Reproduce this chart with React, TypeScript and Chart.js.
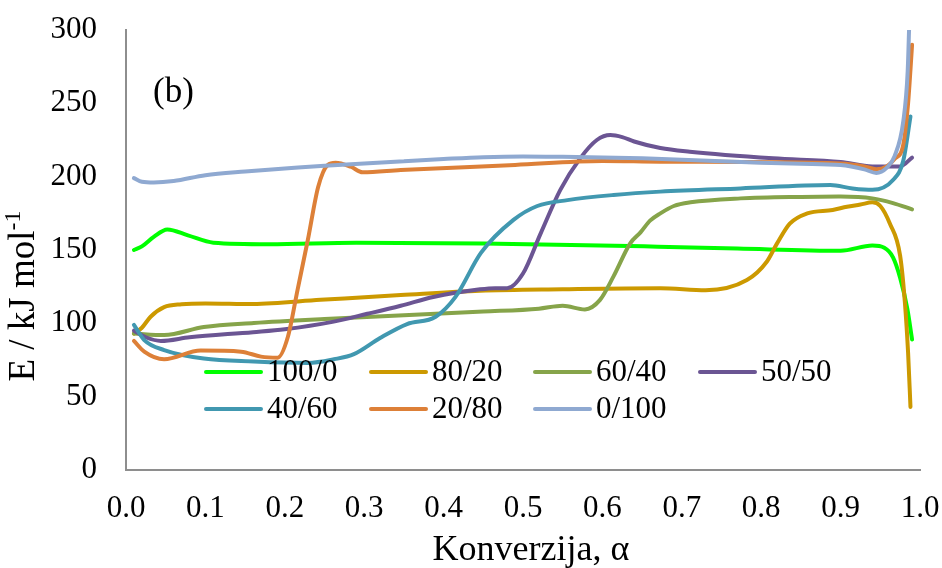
import React, { useEffect, useRef } from 'react';
import { Chart, registerables } from 'chart.js';

Chart.register(...registerables);

const FONT = "'Liberation Serif', 'Times New Roman', serif";

const seriesLabels = ['100/0', '80/20', '60/40', '50/50', '40/60', '20/80', '0/100'];
const seriesColors = ['#00FF00', '#CC9900', '#86A44A', '#6B5593', '#4198B0', '#DD8038', '#8FA9D1'];

const xTickLabels = ['0.0', '0.1', '0.2', '0.3', '0.4', '0.5', '0.6', '0.7', '0.8', '0.9', '1.0'];
const yTickLabels = ['0', '50', '100', '150', '200', '250', '300'];
const xTitle = 'Konverzija, α';
const yTitleMain = 'E / kJ mol';
const yTitleSup = '-1';

// 100/0
const alpha100_0 = [0.01, 0.02, 0.035, 0.052, 0.078, 0.11, 0.18, 0.29, 0.45, 0.67, 0.77, 0.9, 0.94, 0.955, 0.966, 0.975, 0.984, 0.99];
const e100_0 = [150, 152.5, 159, 164, 160, 155, 154, 155, 154.5, 152.3, 151, 149.5, 153, 151.5, 145, 131, 110, 89];

// 80/20
const alpha80_20 = [0.01, 0.02, 0.031, 0.048, 0.07, 0.1, 0.16, 0.245, 0.346, 0.446, 0.55, 0.673, 0.73, 0.782, 0.807, 0.82, 0.836, 0.858, 0.89, 0.908, 0.925, 0.94, 0.95, 0.962, 0.975, 0.981, 0.985, 0.988];
const e80_20 = [93, 97, 104.5, 111, 113, 113.6, 113.2, 116, 119.3, 122.3, 123.3, 124, 122.6, 129.5, 142, 154.5, 168, 175, 177.3, 179.5, 181, 182.5, 180, 168, 146, 114, 80, 43];

// 60/40
const alpha60_40 = [0.01, 0.048, 0.098, 0.161, 0.25, 0.35, 0.45, 0.52, 0.55, 0.578, 0.597, 0.614, 0.635, 0.648, 0.66, 0.673, 0.69, 0.711, 0.774, 0.85, 0.9, 0.94, 0.966, 0.99];
const e60_40 = [93, 92, 97.5, 100.3, 103, 105.5, 108, 110, 112, 109.5, 116, 132, 154.5, 162, 170, 175, 180, 182.5, 185.2, 186.2, 186.4, 185.2, 182, 177.7];

// 50/50
const alpha50_50 = [0.01, 0.025, 0.044, 0.08, 0.16, 0.2, 0.26, 0.304, 0.346, 0.387, 0.446, 0.465, 0.48, 0.5, 0.522, 0.547, 0.572, 0.593, 0.61, 0.625, 0.64, 0.673, 0.71, 0.815, 0.9, 0.94, 0.975, 0.99];
const e50_50 = [95, 90.5, 88, 90.5, 94, 96, 101, 106.5, 112, 118, 123.2, 124, 124, 134, 161, 191, 212.5, 225, 228.4, 227, 224, 219.5, 217, 212.5, 210, 207, 207, 213];

// 40/60
const alpha40_60 = [0.01, 0.023, 0.048, 0.098, 0.161, 0.229, 0.262, 0.287, 0.32, 0.354, 0.39, 0.415, 0.447, 0.488, 0.518, 0.556, 0.614, 0.673, 0.774, 0.887, 0.915, 0.94, 0.966, 0.979, 0.988];
const e40_60 = [99, 88.6, 81.8, 76, 74, 73, 75.5, 79, 90, 99.5, 104.5, 118, 148, 170.5, 180, 184, 187.5, 189.8, 192, 194.3, 192, 191, 197.7, 211, 241];

// 20/80
const alpha20_80 = [0.01, 0.023, 0.048, 0.094, 0.145, 0.17, 0.191, 0.204, 0.216, 0.229, 0.242, 0.254, 0.264, 0.283, 0.298, 0.346, 0.49, 0.6, 0.673, 0.9, 0.93, 0.945, 0.958, 0.968, 0.979, 0.985, 0.988, 0.99];
const e20_80 = [88, 80.7, 75.5, 81.4, 80.7, 77.3, 76.6, 91, 122.7, 156.8, 193, 208, 209.5, 206.8, 203, 204.5, 208, 210.7, 210.2, 209, 207, 205, 207, 212, 222, 250, 273, 290];

// 0/100
const alpha0_100 = [0.01, 0.02, 0.035, 0.06, 0.1, 0.15, 0.2, 0.25, 0.3, 0.35, 0.4, 0.45, 0.5, 0.55, 0.6, 0.65, 0.7, 0.75, 0.8, 0.85, 0.9, 0.93, 0.945, 0.958, 0.968, 0.979, 0.9845, 0.9865];
const e0_100 = [199, 196.5, 196, 197, 201, 203.5, 205.5, 207.5, 209, 210.5, 212, 213.3, 213.8, 213.5, 213, 212.5, 211.5, 210.5, 209.5, 208.8, 208, 205, 202.5, 206, 214, 238, 272, 305];

const seriesAlpha = [alpha100_0, alpha80_20, alpha60_40, alpha50_50, alpha40_60, alpha20_80, alpha0_100];
const seriesE = [e100_0, e80_20, e60_40, e50_50, e40_60, e20_80, e0_100];

const overlayPlugin = {
  id: 'overlay',
  afterDraw(chart: any) {
    const ctx = chart.ctx as CanvasRenderingContext2D;
    const area = chart.chartArea;
    ctx.save();
    ctx.fillStyle = '#000';

    // panel label
    ctx.font = `35px ${FONT}`;
    ctx.textAlign = 'left';
    ctx.textBaseline = 'alphabetic';
    ctx.fillText('(b)', area.left + 27, 102);

    // x axis title
    ctx.font = `36px ${FONT}`;
    ctx.textAlign = 'center';
    ctx.textBaseline = 'middle';
    ctx.fillText(xTitle, 531, 551);

    // legend (inside plot area)
    const colX = [206, 371, 535, 700];
    const rowY = [372, 409];
    const lineLen = 55;
    const ds = chart.data.datasets;
    ctx.textAlign = 'left';
    ctx.textBaseline = 'middle';
    ds.forEach((d: any, i: number) => {
      const c = i < 4 ? i : i - 4;
      const r = i < 4 ? 0 : 1;
      const x = colX[c];
      const y = rowY[r];
      ctx.strokeStyle = d.borderColor;
      ctx.lineWidth = 4;
      ctx.lineCap = 'round';
      ctx.beginPath();
      ctx.moveTo(x, y);
      ctx.lineTo(x + lineLen, y);
      ctx.stroke();
      ctx.fillStyle = '#000';
      ctx.font = `31px ${FONT}`;
      ctx.fillText(d.label, x + lineLen + 6, y + 1);
    });

    // y axis title with superscript
    ctx.font = `37px ${FONT}`;
    const w1 = ctx.measureText(yTitleMain).width;
    ctx.font = `24px ${FONT}`;
    const w2 = ctx.measureText(yTitleSup).width;
    const total = w1 + w2;
    ctx.translate(24, 296);
    ctx.rotate(-Math.PI / 2);
    ctx.textAlign = 'left';
    ctx.textBaseline = 'middle';
    ctx.font = `37px ${FONT}`;
    ctx.fillText(yTitleMain, -total / 2, 0);
    ctx.font = `24px ${FONT}`;
    ctx.fillText(yTitleSup, -total / 2 + w1, -10);
    ctx.restore();
  },
};

export default function App() {
  const ref = useRef<HTMLCanvasElement>(null);
  useEffect(() => {
    const canvas = ref.current;
    if (!canvas) return;
    const datasets = seriesLabels.map((label, i) => ({
      label,
      data: seriesAlpha[i].map((x, k) => ({ x, y: seriesE[i][k] })),
      borderColor: seriesColors[i],
      backgroundColor: seriesColors[i],
      borderWidth: 4,
      pointRadius: 0,
      pointHoverRadius: 0,
      cubicInterpolationMode: 'monotone' as const,
      borderCapStyle: 'round' as const,
      borderJoinStyle: 'round' as const,
      fill: false,
      order: seriesLabels.length - i,
    }));
    const chart = new Chart(canvas, {
      type: 'line',
      data: { datasets },
      options: {
        responsive: false,
        animation: false,
        events: [],
        layout: { padding: 0 },
        plugins: { legend: { display: false }, tooltip: { enabled: false } },
        scales: {
          x: {
            type: 'linear',
            min: 0,
            max: 1,
            grid: { display: false, drawTicks: false },
            border: { display: true, color: '#8e8e8e', width: 2 },
            ticks: {
              stepSize: 0.1,
              autoSkip: false,
              maxRotation: 0,
              padding: 20,
              color: '#000',
              font: { family: FONT, size: 31 },
              callback: (v: any) => xTickLabels[Math.round(Number(v) * 10)] ?? '',
            },
            title: { display: false },
            afterFit: (s: any) => {
              s.height = 98;
              s.paddingLeft = 0;
              s.paddingRight = 22;
            },
          },
          y: {
            type: 'linear',
            min: 0,
            max: 300,
            grid: { display: false, drawTicks: false },
            border: { display: true, color: '#8e8e8e', width: 2 },
            ticks: {
              stepSize: 50,
              padding: 29,
              color: '#000',
              font: { family: FONT, size: 31 },
              callback: (v: any) => yTickLabels[Math.round(Number(v) / 50)] ?? '',
            },
            title: { display: false },
            afterFit: (s: any) => {
              s.width = 126;
              s.paddingTop = 30;
              s.paddingBottom = 0;
            },
          },
        },
      },
      plugins: [overlayPlugin],
    });
    return () => chart.destroy();
  }, []);
  return (
    <div style={{ position: 'fixed', left: 0, top: 0, width: 942, height: 568, background: '#fff' }}>
      <canvas ref={ref} width={942} height={568} style={{ display: 'block', width: 942, height: 568 }} />
    </div>
  );
}
